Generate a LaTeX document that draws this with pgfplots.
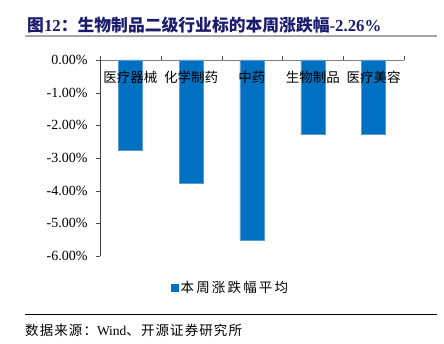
\documentclass[border=0pt]{standalone}
\usepackage{pgfplots}
\pgfplotsset{compat=1.18}
\usepackage{fontspec}
\setmainfont{Liberation Serif}
\newfontfamily\cjk{Noto Sans CJK SC}
\newfontfamily\cjkl[LetterSpace=16]{Noto Sans CJK SC}
\newfontfamily\cjks[LetterSpace=8]{Noto Sans CJK SC}
\definecolor{barblue}{RGB}{0,112,192}
\definecolor{baredge}{RGB}{91,155,213}
\definecolor{titleblue}{RGB}{28,28,110}
\begin{document}
\begin{tikzpicture}[x=1pt,y=1pt]
\path[use as bounding box] (0,0) rectangle (444,344);
\node[anchor=west, font=\fontsize{16.8}{18}\selectfont\bfseries, text=titleblue, inner sep=0] at (27,319) {{\cjk\bfseries 图}12{\cjk\bfseries ：生物制品二级行业标的本周涨跌幅}-2.26\%};
\draw[gray!70, line width=1.5pt] (25,308) -- (437,308);
\draw[black, line width=0.8pt] (25,30) -- (437,30);
\node[anchor=west, font=\fontsize{13.5}{15}\selectfont, inner sep=0] at (25,14) {{\cjks 数据来源：}Wind{\cjks 、开源证券研究所}};
\begin{axis}[at={(100pt,88pt)}, anchor=south west, scale only axis,
  width=304pt, height=196pt,
  xmin=-0.5, xmax=4.5, ymin=-6, ymax=0,
  axis x line=top, axis y line=left,
  axis line style={-},
  x axis line style={draw=gray},
  y axis line style={draw=black!75},
  tick align=outside, major tick length=4pt,
  tick style={black!70},
  xtick={-0.5,0.5,1.5,2.5,3.5,4.5}, xticklabels={},
  ytick={-6,-5,-4,-3,-2,-1,0},
  yticklabels={-6.00\%,-5.00\%,-4.00\%,-3.00\%,-2.00\%,-1.00\%,0.00\%},
  y tick label style={font=\fontsize{14}{15}\selectfont, xshift=-5pt},
  legend style={at={(0.43,-0.16)}, anchor=center, draw=none, fill=none,
    font=\fontsize{13.5}{15}\selectfont},
  legend image code/.code={\fill[barblue] (-2pt,-3.5pt) rectangle (5pt,3.5pt);},
  clip=false,
]
\addplot[ybar, bar width=24pt, fill=barblue, draw=baredge] coordinates {(0,-2.77) (1,-3.77) (2,-5.52) (3,-2.27) (4,-2.28)};
\addlegendentry{\cjkl 本周涨跌幅平均}
\node[font=\cjk\fontsize{13.5}{15}\selectfont] at (axis cs:0,-0.52) {医疗器械};
\node[font=\cjk\fontsize{13.5}{15}\selectfont] at (axis cs:1,-0.52) {化学制药};
\node[font=\cjk\fontsize{13.5}{15}\selectfont] at (axis cs:2,-0.52) {中药};
\node[font=\cjk\fontsize{13.5}{15}\selectfont] at (axis cs:3,-0.52) {生物制品};
\node[font=\cjk\fontsize{13.5}{15}\selectfont] at (axis cs:4,-0.52) {医疗美容};
\end{axis}
\end{tikzpicture}
\end{document}
